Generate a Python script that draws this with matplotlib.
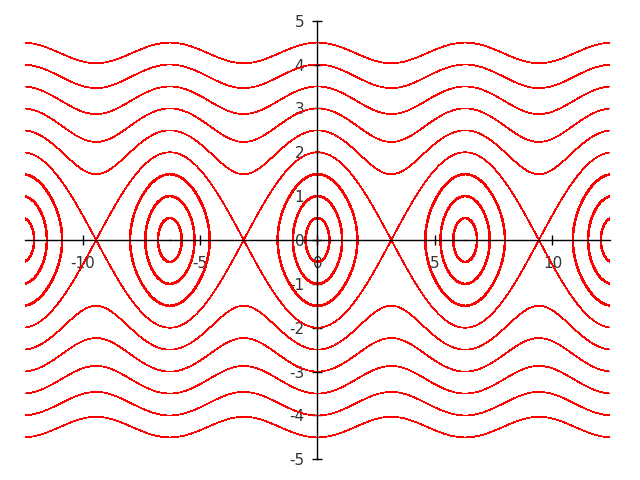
import numpy as np
import matplotlib
matplotlib.use("Agg")
import matplotlib.pyplot as plt

# Phase portrait of the pendulum: H = y^2/2 + 1 - cos(x)
# Orbits labelled by their height y0 at x = 0
closed_y0 = [0.5, 1.0, 1.5]
open_y0 = [2.0, 2.5, 3.0, 3.5, 4.0, 4.5]
center_x = [-4 * np.pi, -2 * np.pi, 0.0, 2 * np.pi, 4 * np.pi]
xticks = [-10, -5, 0, 5, 10]
yticks = [-5, -4, -3, -2, -1, 0, 1, 2, 3, 4, 5]
xlim = (-12.45, 12.45)
ylim = (-5, 5)

fig = plt.figure(figsize=(6.4, 4.8), dpi=100)
ax = fig.add_axes([25 / 640, 20.7 / 480, 585 / 640, 438.6 / 480])

xs = np.linspace(-13.5, 13.5, 2400)
ys = np.linspace(-5.2, 5.2, 1600)
X, Y = np.meshgrid(xs, ys)
H = Y ** 2 / 2 + 1 - np.cos(X)

def lev(v):
    return [v0 ** 2 / 2 for v0 in v]

cs1 = ax.contour(X, Y, H, levels=lev(closed_y0), colors="#ff0000", linewidths=1.1)
cs2 = ax.contour(X, Y, H, levels=lev(open_y0), colors="#ff0000", linewidths=0.5)
for cs in (cs1, cs2):
    cs.set_antialiased(False)
ax.plot(center_x, [0] * len(center_x), linestyle="none", marker="s", markersize=1.2,
        color="#ff0000", markeredgewidth=0)

ax.set_xlim(*xlim)
ax.set_ylim(*ylim)
for s in ("top", "right"):
    ax.spines[s].set_visible(False)
ax.spines["left"].set_position(("data", 0))
ax.spines["bottom"].set_position(("data", 0))
for s in ("left", "bottom"):
    ax.spines[s].set_linewidth(1.0)
    ax.spines[s].set_color("black")
ax.set_xticks(xticks)
ax.set_yticks(yticks)
ax.set_xticklabels([str(t) for t in xticks])
ax.set_yticklabels([str(t) for t in yticks])
ax.tick_params(axis="both", direction="inout", length=7, width=1, colors="black",
               labelcolor="#333333", labelsize=11)
ax.tick_params(axis="x", pad=8)
ax.tick_params(axis="y", pad=6)
ax.set_facecolor("white")
fig.savefig("out.png", dpi=100, facecolor="white")
